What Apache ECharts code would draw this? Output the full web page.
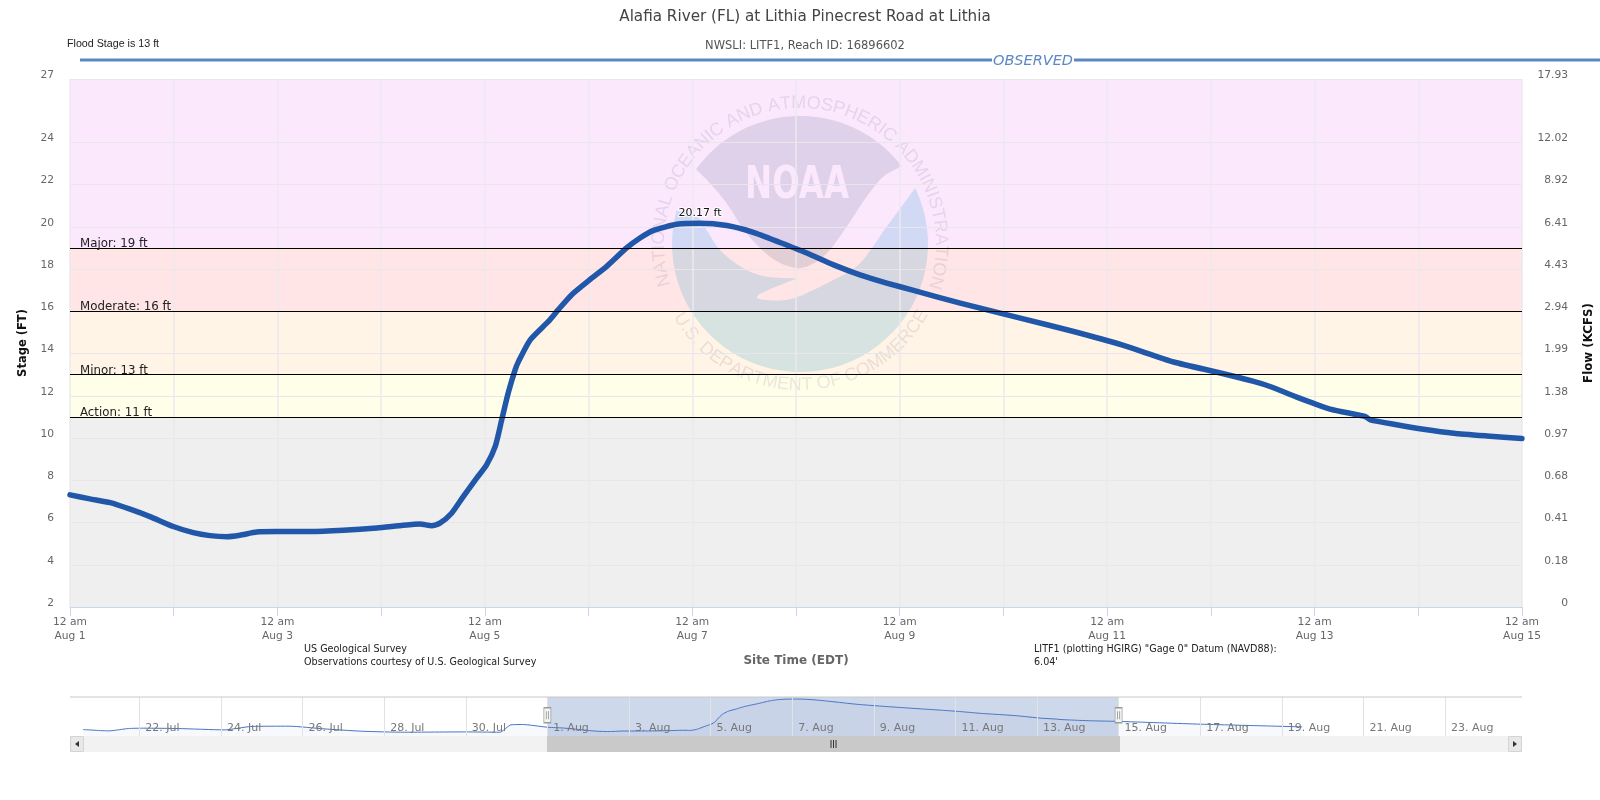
<!DOCTYPE html>
<html><head><meta charset="utf-8">
<style>html,body{margin:0;padding:0;background:#fff}#c{width:1600px;height:800px}</style>
<script src="https://cdn.jsdelivr.net/npm/echarts@6/dist/echarts.min.js"></script>
</head><body><div id="c"></div>
<script>
// ---- data (hours since 12 am Aug 1, stage in ft) ----
const obsHours = [0,4.6,9.3,13.9,18.5,23.9,28.5,32.4,36.3,39.3,43.2,47.8,55.5,63.3,71,77.1,81,83.7,85.6,88.3,91,94.1,96.4,98.4,99.9,101.4,103,103.8,106.5,110.7,113,116.1,120.3,124.2,128.8,131.9,134.9,140.4,145.8,152,158.1,164.3,170.5,176.7,182.8,189,195.2,206,219.9,231.8,243.6,255.4,266.2,273.9,277.7,283.9,291.6,299.7,300.9,307,313.2,320.2,327.9,336];
const obsStage = [7.31,7.12,6.94,6.63,6.28,5.81,5.52,5.38,5.33,5.40,5.55,5.57,5.57,5.63,5.74,5.87,5.93,5.85,5.97,6.44,7.23,8.1,8.73,9.6,10.86,12.13,13.23,13.63,14.65,15.52,16.08,16.79,17.5,18.13,19.0,19.47,19.82,20.12,20.17,20.06,19.74,19.26,18.76,18.2,17.73,17.34,16.99,16.39,15.68,15.07,14.4,13.6,13.08,12.68,12.44,11.94,11.37,11.02,10.86,10.63,10.42,10.23,10.1,9.98];
const navPastHours = [-273,-258,-246.5,-237.4,-217,-190,-174.5,-152,-131.5,-109,-84,-48.5,-28,-21.4,-14.6];
const navPastStage = [6.25,5.64,6.71,6.87,6.71,6.1,7.63,7.79,6.56,5.48,5.02,5.18,5.02,8.4,8.55];
const navFutureHours = [384,444];
const navFutureStage = [8.7,7.48];
const stageTicks = [2,4,6,8,10,12,14,16,18,20,22,24,27];
const flowLabels = ['0','0.18','0.41','0.68','0.97','1.38','1.99','2.94','4.43','6.41','8.92','12.02','17.93'];
const thresholds = [19,16,13,11];
const thresholdNames = ['Major: 19 ft','Moderate: 16 ft','Minor: 13 ft','Action: 11 ft'];
const bandEdges = [2,11,13,16,19,27];
const bandColors = ['#efefef','#ffffe9','#fff4e5','#ffe5e5','#fbe8fd'];
const navTickDays = [-10,-8,-6,-4,-2,0,2,4,6,8,10,12,14,16,18,20,22];
const titleText = 'Alafia River (FL) at Lithia Pinecrest Road at Lithia';
const subtitleText = 'NWSLI: LITF1, Reach ID: 16896602';

// ---- helpers ----
const T0 = new Date(2024,7,1,0,0,0).getTime();
const dateOf = h => new Date(T0 + h*3600e3);
const MONTHS = ['Jan','Feb','Mar','Apr','May','Jun','Jul','Aug','Sep','Oct','Nov','Dec'];
const obsData = obsHours.map((h,i)=>[h,obsStage[i]]);
const navData = navPastHours.map((h,i)=>[h,navPastStage[i]]).concat(obsData, navFutureHours.map((h,i)=>[h,navFutureStage[i]]));
const dayTicks = Array.from({length:15},(_,i)=>i*24);
const labelTicks = dayTicks.filter((_,i)=>i%2===0);
const navTicks = navTickDays.map(d=>d*24);
const bands = bandColors.map((c,i)=>[{yAxis:bandEdges[i],itemStyle:{color:c}},{yAxis:bandEdges[i+1]}]);

// ---- NOAA watermark (decoration, not data) ----
const CX=800, CY=244, R=128;
const z2p = ([x,y])=>[620+x/3, 80+y/3];
function spline(pts){
  const out=[];
  for(let i=0;i<pts.length-1;i++){
    const p0=pts[Math.max(i-1,0)],p1=pts[i],p2=pts[i+1],p3=pts[Math.min(i+2,pts.length-1)];
    for(let k=0;k<8;k++){const s=k/8,s2=s*s,s3=s2*s;
      out.push([0,1].map(d=>.5*(2*p1[d]+(p2[d]-p0[d])*s+(2*p0[d]-5*p1[d]+4*p2[d]-p3[d])*s2+(3*p1[d]-p0[d]-3*p2[d]+p3[d])*s3)));
    }
  }
  out.push(pts[pts.length-1]);return out;
}
function arc(a0,a1){const o=[],n=48;for(let i=0;i<=n;i++){const a=(a0+(a1-a0)*i/n)*Math.PI/180;o.push([CX+R*Math.sin(a),CY-R*Math.cos(a)]);}return o;}
const topCurve=[[843,260],[790,290],[740,350],[680,440],[620,520],[560,560],[510,560],[450,530],[380,460],[320,370],[270,310],[228,268]].map(z2p);
const lowCurveA=[[162,390],[230,410],[260,450],[300,510],[370,565],[440,590],[530,595]].map(z2p);
const lowCurveB=[[530,595],[415,645],[440,660],[520,655],[640,600],[720,550],[800,440],[885,325]].map(z2p);
const topShape=arc(-54.3,52.6).concat(spline(topCurve));
const lowShape=arc(64.2,285.1).concat(spline(lowCurveA),spline(lowCurveB));
const ringColor='rgba(70,60,120,0.12)';
const measure=document.createElement('canvas').getContext('2d');
function ring(text,a0,a1,r,bottom){
  const font='18px "Liberation Sans"';measure.font=font;
  const w=[...text].map(c=>measure.measureText(c).width),tot=w.reduce((a,b)=>a+b,0);
  let acc=0;const els=[];
  [...text].forEach((c,i)=>{
    const f=(acc+w[i]/2)/tot;acc+=w[i];
    const a=(a0+(a1-a0)*f)*Math.PI/180;
    const x=CX+r*Math.sin(a), y=bottom?CY+r*Math.cos(a):CY-r*Math.cos(a);
    els.push({type:'text',x,y,rotation:bottom?a:-a,z:2,silent:true,
      style:{text:c,font,fill:ringColor,textAlign:'center',textVerticalAlign:'middle',align:'center',verticalAlign:'middle'}});
  });
  return els;
}
const txt=(text,x,y,font,fill,extra)=>Object.assign({type:'text',x,y,z:8,silent:true,style:{text,font,fill,textAlign:'left',textVerticalAlign:'middle',align:'left',verticalAlign:'middle'}},extra||{});
const ctr=(text,x,y,font,fill)=>{const e=txt(text,x,y,font,fill);e.style.textAlign='center';e.style.align='center';return e;};
const BLUE='#5c86c6';
const graphicEls=[
  {type:'polygon',z:2,silent:true,shape:{points:lowShape},style:{fill:'rgba(0,140,200,0.16)'}},
  {type:'polygon',z:2,silent:true,shape:{points:topShape},style:{fill:'rgba(63,78,119,0.15)'}},
  {type:'text',x:797,y:186,z:2,silent:true,scaleX:0.72,originX:0,originY:0,style:{text:'NOAA',font:'bold 45px "DejaVu Sans"',fill:'#fbe8fd',textAlign:'center',textVerticalAlign:'middle',align:'center',verticalAlign:'middle'}},
  ...ring('NATIONAL OCEANIC AND ATMOSPHERIC ADMINISTRATION',-107.5,108.6,141,false),
  ...ring('U.S. DEPARTMENT OF COMMERCE',-60,61.3,141,true),
  ctr(titleText,805,17.5,'15.2px "DejaVu Sans"','#444'),
  ctr(subtitleText,805,46,'11.5px "DejaVu Sans"','#555'),
  txt('Flood Stage is 13 ft',67,44.5,'10.7px "Liberation Sans"','#222'),
  {type:'line',z:8,silent:true,shape:{x1:80,y1:60,x2:992,y2:60},style:{stroke:BLUE,lineWidth:3}},
  {type:'line',z:8,silent:true,shape:{x1:1074,y1:60,x2:1600,y2:60},style:{stroke:BLUE,lineWidth:3}},
  ctr('OBSERVED',1033,61,'italic 14.5px "DejaVu Sans"',BLUE),
  txt('US Geological Survey',304,649,'9.6px "DejaVu Sans"','#222'),
  txt('Observations courtesy of U.S. Geological Survey',304,662,'9.6px "DejaVu Sans"','#222'),
  txt('LITF1 (plotting HGIRG) "Gage 0" Datum (NAVD88):',1034,649,'9.6px "DejaVu Sans"','#222'),
  txt("6.04'",1034,662,'9.6px "DejaVu Sans"','#222'),
  // navigator frame and scrollbar
  {type:'line',z:8,silent:true,shape:{x1:70,y1:697,x2:1522,y2:697},style:{stroke:'#c8c8c8',lineWidth:1}},
  {type:'rect',z:8,silent:true,shape:{x:70,y:736,width:1452,height:16},style:{fill:'#f2f2f2'}},
  {type:'rect',z:8,silent:true,shape:{x:547,y:736,width:573,height:16},style:{fill:'#c9c9c9'}},
  {type:'rect',z:9,silent:true,shape:{x:70.5,y:736.5,width:13,height:15},style:{fill:'#e8e8e8',stroke:'#d4d4d4'}},
  {type:'rect',z:9,silent:true,shape:{x:1508.5,y:736.5,width:13,height:15},style:{fill:'#e8e8e8',stroke:'#d4d4d4'}},
  {type:'polygon',z:10,silent:true,shape:{points:[[79,741],[79,747],[75,744]]},style:{fill:'#333'}},
  {type:'polygon',z:10,silent:true,shape:{points:[[1513,741],[1513,747],[1517,744]]},style:{fill:'#333'}},
  ...[831,833.5,836].map(x=>({type:'line',z:10,silent:true,shape:{x1:x,y1:740,x2:x,y2:748},style:{stroke:'#333',lineWidth:1}}))
];

const axisGray='#666';
const gridLine='#e9e6ea';
const handleStyle={color:'#f4f4f4',borderColor:'#999',borderWidth:1};
const gripStyle={color:'#999'};
const gripPath='path://M0 0H2V10H0ZM5 0H7V10H5Z';
const option={
  animation:false,
  backgroundColor:'#fff',
  textStyle:{fontFamily:'"DejaVu Sans"'},
  graphic:{elements:graphicEls},
  grid:[
    {left:70,width:1452,top:79,height:528,containLabel:false,outerBoundsMode:'none'},
    {left:70,width:1452,top:697,height:39,containLabel:false,outerBoundsMode:'none'}
  ],
  xAxis:[
    {type:'value',gridIndex:0,min:0,max:336,z:3,
      name:'Site Time (EDT)',nameLocation:'middle',nameGap:48,nameMoveOverlap:false,
      nameTextStyle:{fontFamily:'"DejaVu Sans"',fontWeight:'bold',fontSize:12,color:'#666'},
      axisLine:{show:true,lineStyle:{color:'#c8d6ee'}},
      axisTick:{show:true,length:9,customValues:dayTicks,lineStyle:{color:'#c8d6ee'}},
      splitLine:{show:true,lineStyle:{color:'#ece9ee',width:1.5}},
      axisLabel:{customValues:labelTicks,margin:8,fontSize:10.7,color:axisGray,lineHeight:14,hideOverlap:false,
        showMinLabel:true,showMaxLabel:true,alignMinLabel:'center',alignMaxLabel:'center',
        formatter:v=>{const d=dateOf(v);return '12 am\n'+MONTHS[d.getMonth()]+' '+d.getDate();}}
    },
    {type:'value',gridIndex:1,min:-280.8,max:573.3,z:7,
      axisLine:{show:false},
      axisTick:{show:false,customValues:navTicks},
      splitLine:{show:true,lineStyle:{color:'#e2e2e2'}},
      axisLabel:{customValues:navTicks,inside:true,margin:2,align:'left',padding:[0,0,0,6],fontSize:11,color:'#777',hideOverlap:false,
        formatter:v=>{const d=dateOf(v);return d.getDate()+'. '+MONTHS[d.getMonth()];}}
    }
  ],
  yAxis:[
    {type:'value',gridIndex:0,min:2,max:27,z:3,position:'left',
      name:'Stage (FT)',nameLocation:'middle',nameGap:38.5,
      nameTextStyle:{fontFamily:'"DejaVu Sans"',fontWeight:'bold',fontSize:11.5,color:'#111'},
      axisLine:{show:false},axisTick:{show:false,customValues:stageTicks},
      splitLine:{show:true,lineStyle:{color:gridLine,width:1}},
      axisLabel:{customValues:stageTicks,margin:16,fontSize:10.7,color:axisGray,verticalAlign:'bottom',verticalAlignMinLabel:'bottom',verticalAlignMaxLabel:'bottom',lineHeight:8,hideOverlap:false}
    },
    {type:'value',gridIndex:0,min:2,max:27,z:3,position:'right',
      name:'Flow (KCFS)',nameLocation:'middle',nameGap:61,
      nameTextStyle:{fontFamily:'"DejaVu Sans"',fontWeight:'bold',fontSize:11.8,color:'#111'},
      axisLine:{show:false},axisTick:{show:false,customValues:stageTicks},splitLine:{show:false},
      axisLabel:{customValues:stageTicks,margin:46,align:'right',fontSize:10.7,color:axisGray,verticalAlign:'bottom',verticalAlignMinLabel:'bottom',verticalAlignMaxLabel:'bottom',lineHeight:8,hideOverlap:false,
        formatter:v=>flowLabels[stageTicks.indexOf(v)]}
    },
    {type:'value',gridIndex:1,min:3.3,max:21.1,show:false,splitLine:{show:false}}
  ],
  series:[
    {type:'line',name:'bands',xAxisIndex:0,yAxisIndex:0,data:[],silent:true,
      markArea:{silent:true,z:1,data:bands}},
    {type:'line',name:'Stage',xAxisIndex:0,yAxisIndex:0,z:5,data:obsData,showSymbol:false,smooth:0.2,
      lineStyle:{color:'#2057a9',width:5.5,cap:'round',join:'round'},itemStyle:{color:'#2057a9'},silent:true,
      markPoint:{silent:true,z:7,symbol:'circle',symbolSize:1,itemStyle:{color:'transparent'},
        data:[{type:'max',valueDim:'y',label:{show:true,position:'top',distance:4,formatter:p=>Number(p.value).toFixed(2)+' ft',
          fontSize:11,color:'#111',textBorderColor:'#fff',textBorderWidth:2}}]},
      markLine:{silent:true,z:6,symbol:'none',animation:false,
        lineStyle:{color:'#000',width:1,type:'solid'},
        data:thresholds.map((v,i)=>({yAxis:v,name:thresholdNames[i],
          label:{show:true,formatter:thresholdNames[i],position:'insideStartTop',distance:[10,-2],fontSize:11.8,color:'#222'}}))}
    },
    {type:'line',name:'Navigator',xAxisIndex:1,yAxisIndex:2,z:6,data:navData,showSymbol:false,smooth:0.2,silent:true,
      lineStyle:{color:'#4a76c4',width:1},itemStyle:{color:'#4a76c4'},
      areaStyle:{color:'rgba(74,118,196,0.06)'},
      markArea:{silent:true,z:5,itemStyle:{color:'rgba(102,133,194,0.32)'},data:[[{xAxis:0},{xAxis:336}]]},
      markPoint:{silent:true,z:9,label:{show:false},data:[
        {coord:[0,12.74],symbol:'rect',symbolSize:[7,15],itemStyle:handleStyle},
        {coord:[336,12.74],symbol:'rect',symbolSize:[7,15],itemStyle:handleStyle},
        {coord:[0,12.74],symbol:gripPath,symbolSize:[3,8],itemStyle:gripStyle},
        {coord:[336,12.74],symbol:gripPath,symbolSize:[3,8],itemStyle:gripStyle}
      ]}
    }
  ]
};
const chart=echarts.init(document.getElementById('c'),null,{renderer:'canvas'});
chart.setOption(option);
</script></body></html>
